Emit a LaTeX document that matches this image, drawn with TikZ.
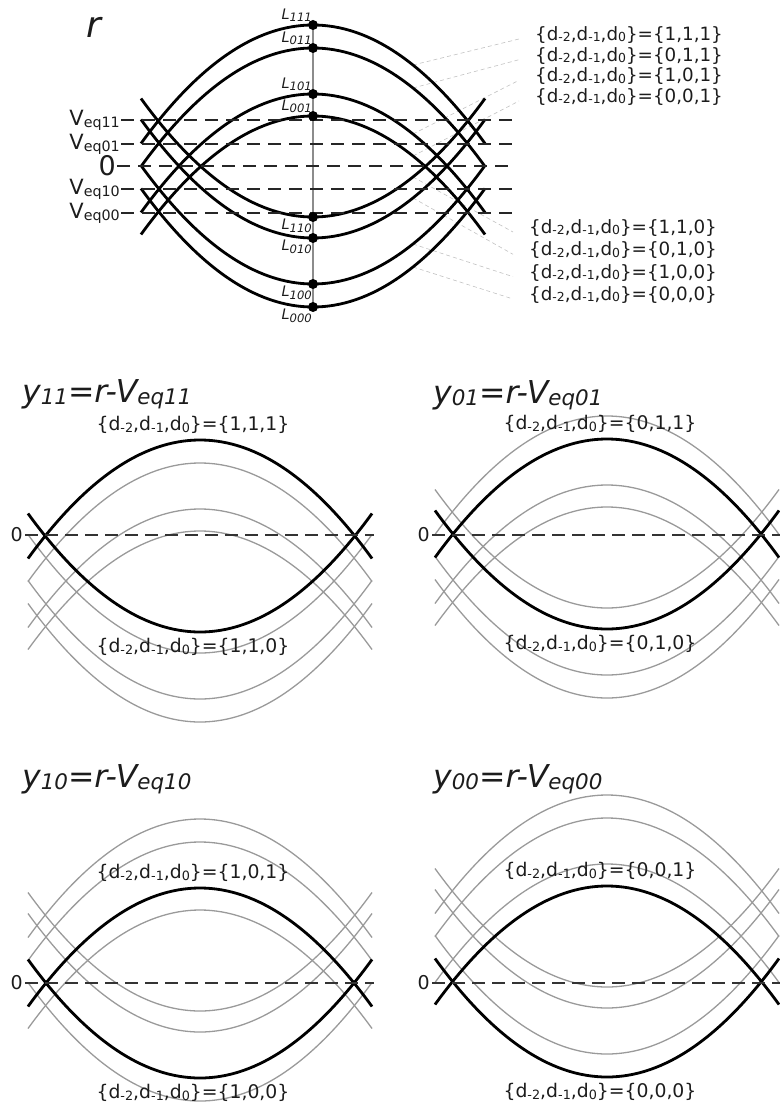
\documentclass[tikz,border=0pt]{standalone}
\usepackage{fontspec}
\setmainfont{DejaVu Sans}
\usepackage{graphicx}
\usepackage{tikz}
\usetikzlibrary{positioning,calc,backgrounds}
\definecolor{CurveGray}{HTML}{9A9A9A}
\definecolor{LeadGray}{HTML}{C2C2C2}
\definecolor{TextDark}{HTML}{1C1C1C}

% lowered small text for indices
\newcommand{\lo}[1]{\raisebox{-0.15ex}{\scalebox{0.68}{#1}}}
\newcommand{\lsub}[1]{\raisebox{-0.3ex}{\scalebox{0.8}{#1}}}
\newcommand{\dset}[1]{\{d\lo{-2},d\lo{-1},d\lo{0}\}=\{#1\}}
% one eye trace: style, level, +1 cap / -1 cup
\newcommand{\eyearc}[3]{%
  \draw[#1] (141,{#2+(#3)*118.5}) .. controls (255.67,{#2-(#3)*39.5})
    and (370.33,{#2-(#3)*39.5}) .. (485,{#2+(#3)*118.5});}
% one shifted panel: shift, cap level, cup level, Veq, top text, bottom text, prefix
\newcommand{\eyepanel}[7]{%
  \begin{scope}[shift={#1}]
    \foreach \lv/\sg in {25/1,48/1,94/1,116/1,217/-1,238/-1,284/-1,307/-1}
      {\eyearc{eyegray}{\lv}{\sg}}
    \eyearc{eyethick}{#2}{1}
    \eyearc{eyethick}{#3}{-1}
    \node[zerolab] (#7z) at (138,#4) {0};
    \draw[zeroline] (#7z.east) -- (487,#4);
    \node[panellab] (#7t) at (306,{#2-15}) {\dset{#5}};
    \node[panellab] (#7b) at (306,{#3+15}) {\dset{#6}};
  \end{scope}}

\tikzset{
  eyethick/.style={line width=2.8pt, black},
  eyegray/.style={line width=1.3pt, CurveGray},
  levelline/.style={line width=1.5pt, black!85, dash pattern=on 13pt off 8pt},
  zeroline/.style={line width=1.4pt, black!80, dash pattern=on 13pt off 7pt},
  vline/.style={line width=1.3pt, black!45},
  leader/.style={line width=0.6pt, LeadGray, dash pattern=on 4pt off 3pt},
  dot/.style={circle, fill=black, minimum size=10pt, inner sep=0pt},
  dlabel/.style={anchor=west, inner sep=0pt, text=TextDark,
    font=\fontsize{18.3}{20}\selectfont},
  panellab/.style={inner sep=0pt, text=TextDark, font=\fontsize{18.8}{20}\selectfont},
  zerolab/.style={anchor=east, inner sep=2pt, text=TextDark,
    font=\fontsize{19}{21}\selectfont},
  veqlab/.style={anchor=east, inner sep=1pt, text=TextDark,
    font=\fontsize{21}{24}\selectfont},
  llab/.style={inner sep=0pt, text=TextDark, font=\fontsize{14.5}{16}\selectfont\itshape},
  ytitle/.style={anchor=base west, inner sep=0pt, text=TextDark,
    font=\fontsize{31.5}{34}\selectfont\itshape}
}

\begin{document}
\begin{tikzpicture}[x=1pt, y=-1pt]
  \useasboundingbox (0,0) rectangle (779,1107);

  % received signal r with all eight traces
  \node[llab, font=\fontsize{36}{38}\selectfont\itshape] (rsig) at (94,27) {r};

  \coordinate (p111) at (413,65);
  \coordinate (p011) at (413,88);
  \coordinate (p101) at (413,134);
  \coordinate (p001) at (413,156);
  \coordinate (p110) at (413,177);
  \coordinate (p010) at (413,198);
  \coordinate (p100) at (413,244);
  \coordinate (p000) at (413,267);

  \node[dlabel] (g111) at (535,35) {\dset{1,1,1}};
  \node[dlabel] (g011) at (535,55.7) {\dset{0,1,1}};
  \node[dlabel] (g101) at (535,76.3) {\dset{1,0,1}};
  \node[dlabel] (g001) at (535,97) {\dset{0,0,1}};
  \node[dlabel] (g110) at (529,228) {\dset{1,1,0}};
  \node[dlabel] (g010) at (529,250.3) {\dset{0,1,0}};
  \node[dlabel] (g100) at (529,272.7) {\dset{1,0,0}};
  \node[dlabel] (g000) at (529,295) {\dset{0,0,0}};

  \foreach \n in {111,011,101,001,110,010,100,000}
    \draw[leader] (p\n) -- ([xshift=-16pt,yshift=-4pt]g\n.west);

  \foreach \lv/\sg in {25/1,48/1,94/1,116/1,217/-1,238/-1,284/-1,307/-1}
    {\eyearc{eyethick}{\lv}{\sg}}

  \node[veqlab] (v11) at (121,120) {V\lo{eq11}};
  \node[veqlab] (v01) at (121,144) {V\lo{eq01}};
  \node[veqlab, font=\fontsize{27}{28}\selectfont] (v0) at (117,166) {0};
  \node[veqlab] (v10) at (121,189) {V\lo{eq10}};
  \node[veqlab] (v00) at (121,213) {V\lo{eq00}};
  \foreach \n/\lv in {11/120,01/144,0/166,10/189,00/213}
    \draw[levelline] (v\n.east) -- (512,\lv);

  \node[dot] (d111) at (313,25) {};
  \node[dot] (d011) at (313,48) {};
  \node[dot] (d101) at (313,94) {};
  \node[dot] (d001) at (313,116) {};
  \node[dot] (d110) at (313,217) {};
  \node[dot] (d010) at (313,238) {};
  \node[dot] (d100) at (313,284) {};
  \node[dot] (d000) at (313,307) {};
  \begin{scope}[on background layer]
    \draw[vline] (d111.center) -- (d000.center);
  \end{scope}

  \foreach \n in {111,011,101,001}
    \node[llab, anchor=south east] (l\n) at ([shift={(-1pt,3pt)}]d\n.center) {L\lsub{\n}};
  \foreach \n in {110,010,100,000}
    \node[llab, anchor=north east] (l\n) at ([shift={(-1pt,-2pt)}]d\n.center) {L\lsub{\n}};

  % the four decision panels
  \node[ytitle] (t11) at (22,402) {y\lo{11}=r-V\lo{eq11}};
  \node[ytitle] (t01) at (433,403) {y\lo{01}=r-V\lo{eq01}};
  \node[ytitle] (t10) at (22,787) {y\lo{10}=r-V\lo{eq10}};
  \node[ytitle] (t00) at (433,787) {y\lo{00}=r-V\lo{eq00}};

  \eyepanel{(-113,415)}{25}{217}{120}{1,1,1}{1,1,0}{a}
  \eyepanel{(294,391)}{48}{238}{144}{0,1,1}{0,1,0}{b}
  \eyepanel{(-113,794)}{94}{284}{189}{1,0,1}{1,0,0}{c}
  \eyepanel{(294,770)}{116}{307}{213}{0,0,1}{0,0,0}{e}
\end{tikzpicture}
\end{document}
